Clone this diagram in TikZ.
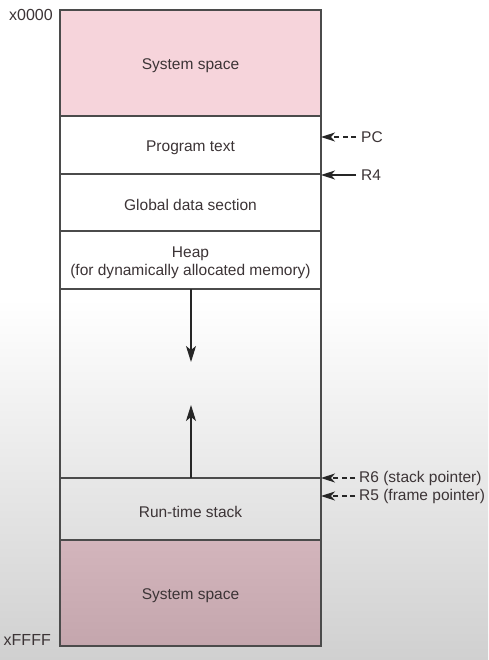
\documentclass[tikz,border=0pt]{standalone}
\usepackage{fontspec}
\setmainfont{Liberation Sans}
\usetikzlibrary{arrows.meta}
\definecolor{pinktop}{RGB}{246,212,219}
\definecolor{pinkbA}{RGB}{211,181,188}
\definecolor{pinkbB}{RGB}{196,166,173}
\definecolor{bggray}{RGB}{208,208,208}
\definecolor{edge}{RGB}{75,75,75}
\definecolor{txt}{RGB}{60,52,54}
\begin{document}
\begin{tikzpicture}[x=1pt,y=-1pt,
  every node/.style={font=\fontsize{15.5}{18}\selectfont, text=txt},
  seg/.style={draw=edge, line width=1.1pt, anchor=north west, minimum width=261pt,
    inner sep=0pt, outer sep=0pt},
  segtext/.style={label={[yshift=-2.5pt, align=center]center:#1}},
  arrline/.style={-{Stealth[length=16pt,width=10pt,inset=4pt]}, line width=1.2pt, draw=black!85},
  ptrarr/.style={-{Stealth[length=14pt,width=9pt,inset=4pt]}, line width=1.2pt, draw=black!85},
  ptrline/.style={ptrarr, dash pattern=on 5pt off 3.5pt},
  lab/.style={anchor=west, inner sep=0pt},
  addr/.style={anchor=east, inner sep=0pt, font=\fontsize{16}{18}\selectfont}]
\useasboundingbox (0,0) rectangle (488,660);
\fill[white] (0,0) rectangle (488,300);
\shade[top color=white, bottom color=bggray] (0,299) rectangle (488,660);
\fill[pinktop] (60,10) rectangle (321,116);
\shade[top color=pinkbA, bottom color=pinkbB] (60,540) rectangle (321,646);
\node[seg, minimum height=106pt, segtext={System space}] (sysa) at (60,10) {};
\node[seg, minimum height=58pt, segtext={Program text}] (prog) at (60,116) {};
\node[seg, minimum height=57pt, segtext={Global data section}] (glob) at (60,174) {};
\node[seg, minimum height=58pt, segtext={Heap\\(for dynamically allocated memory)}] (heap) at (60,231) {};
\node[seg, minimum height=189pt] (free) at (60,289) {};
\node[seg, minimum height=62pt, segtext={Run-time stack}] (stack) at (60,478) {};
\node[seg, minimum height=106pt, segtext={System space}] (sysb) at (60,540) {};
\node[addr] (top) at (53,15) {x0000};
\node[addr] (bot) at (51,640) {xFFFF};
\coordinate (hend) at (191,362);
\coordinate (send) at (191,405);
\draw[arrline] (heap.south -| hend) -- (hend);
\draw[arrline] (stack.north -| send) -- (send);
\node[lab] (pc) at (361,137) {PC};
\node[lab] (rfour) at (361,175) {R4};
\node[lab] (rsix) at (359,478) {R6 (stack pointer)};
\node[lab] (rfive) at (359,496) {R5 (frame pointer)};
\draw[ptrline] (pc.west) ++(-5,0) -- (pc.west -| prog.east);
\draw[ptrarr] (rfour.west) ++(-5,0) -- (rfour.west -| prog.east);
\draw[ptrline] (rsix.west) ++(-4,0) -- (rsix.west -| prog.east);
\draw[ptrline] (rfive.west) ++(-4,0) -- (rfive.west -| prog.east);
\end{tikzpicture}
\end{document}
